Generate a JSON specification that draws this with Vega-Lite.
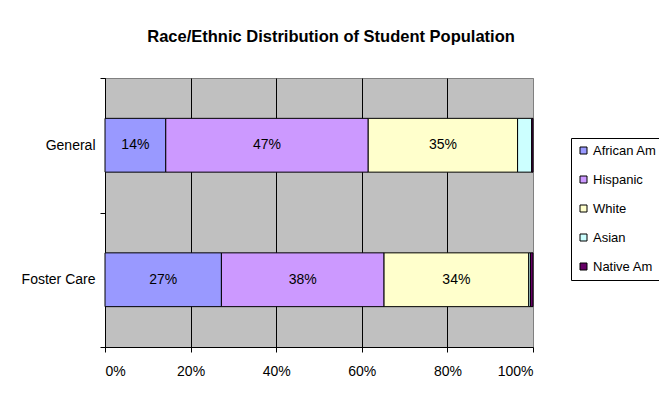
{
  "$schema": "https://vega.github.io/schema/vega-lite/v6.json",
  "width": 428,
  "height": 269,
  "autosize": {"type": "none"},
  "padding": {"left": 105, "top": 78, "right": 126, "bottom": 53},
  "background": "white",
  "title": {
    "text": "Race/Ethnic Distribution of Student Population",
    "font": "Liberation Sans",
    "fontSize": 16.5,
    "fontWeight": "bold",
    "color": "black",
    "anchor": "middle",
    "offset": 26,
    "dx": 12
  },
  "data": {
    "values": [
      {"cat": "General", "race": "African Am", "k": 1, "v": 0.142},
      {"cat": "General", "race": "Hispanic", "k": 2, "v": 0.473},
      {"cat": "General", "race": "White", "k": 3, "v": 0.349},
      {"cat": "General", "race": "Asian", "k": 4, "v": 0.033},
      {"cat": "General", "race": "Native Am", "k": 5, "v": 0.003},
      {"cat": "Foster Care", "race": "African Am", "k": 1, "v": 0.272},
      {"cat": "Foster Care", "race": "Hispanic", "k": 2, "v": 0.38},
      {"cat": "Foster Care", "race": "White", "k": 3, "v": 0.338},
      {"cat": "Foster Care", "race": "Asian", "k": 4, "v": 0.004},
      {"cat": "Foster Care", "race": "Native Am", "k": 5, "v": 0.006}
    ]
  },
  "transform": [
    {"stack": "v", "groupby": ["cat"], "sort": [{"field": "k", "order": "ascending"}], "offset": "normalize", "as": ["x0", "x1"]}
  ],
  "encoding": {
    "y": {
      "field": "cat",
      "type": "nominal",
      "sort": ["General", "Foster Care"],
      "scale": {"paddingInner": 0, "paddingOuter": 0},
      "axis": {
        "title": null,
        "tickBand": "extent",
        "domainColor": "black",
        "tickColor": "black",
        "tickSize": 5,
        "labelFontSize": 14,
        "labelFont": "Liberation Sans",
        "labelColor": "black",
        "labelPadding": 5,
        "grid": false
      }
    }
  },
  "layer": [
    {
      "mark": {"type": "bar", "stroke": "black", "strokeWidth": 1, "height": {"band": 0.4}},
      "encoding": {
        "x": {
          "field": "x0",
          "type": "quantitative",
          "scale": {"domain": [0, 1], "nice": false},
          "axis": {
            "title": null,
            "format": "%",
            "values": [0, 0.2, 0.4, 0.6, 0.8, 1],
            "grid": true,
            "gridColor": {"condition": {"test": "datum.value == 1", "value": "#808080"}, "value": "black"},
            "gridOpacity": 1,
            "domainColor": "black",
            "tickColor": "black",
            "tickSize": 5,
            "labelFontSize": 14,
            "labelFont": "Liberation Sans",
            "labelColor": "black",
            "labelPadding": 12
          }
        },
        "x2": {"field": "x1"},
        "color": {
          "field": "race",
          "type": "nominal",
          "scale": {
            "domain": ["African Am", "Hispanic", "White", "Asian", "Native Am"],
            "range": ["#9999FF", "#CC99FF", "#FFFFCC", "#CCFFFF", "#660066"]
          },
          "legend": {
            "orient": "none",
            "legendX": 466,
            "legendY": 60,
            "title": null,
            "strokeColor": "black",
            "fillColor": "white",
            "padding": 6,
            "labelFontSize": 13,
            "labelFont": "Liberation Sans",
            "labelColor": "black",
            "symbolType": "square",
            "symbolSize": 49,
            "symbolStrokeColor": "black",
            "symbolStrokeWidth": 1,
            "symbolOpacity": 1,
            "rowPadding": 15,
            "labelOffset": 3
          }
        }
      }
    },
    {
      "transform": [
        {"filter": "datum.v >= 0.1"},
        {"fold": ["x0", "x1"], "as": ["edge", "pos"]}
      ],
      "mark": {"type": "text", "font": "Liberation Sans", "fontSize": 14, "color": "black", "align": "center", "baseline": "middle"},
      "encoding": {
        "x": {
          "aggregate": "mean",
          "field": "pos",
          "type": "quantitative",
          "axis": {
            "title": null,
            "format": "%",
            "values": [0, 0.2, 0.4, 0.6, 0.8, 1],
            "grid": true,
            "gridColor": {"condition": {"test": "datum.value == 1", "value": "#808080"}, "value": "black"},
            "gridOpacity": 1,
            "domainColor": "black",
            "tickColor": "black",
            "tickSize": 5,
            "labelFontSize": 14,
            "labelFont": "Liberation Sans",
            "labelColor": "black",
            "labelPadding": 12
          }
        },
        "text": {"field": "v", "type": "quantitative", "format": ".0%"}
      }
    }
  ],
  "config": {
    "font": "Liberation Sans",
    "view": {"fill": "#C0C0C0", "stroke": "#808080"}
  }
}
